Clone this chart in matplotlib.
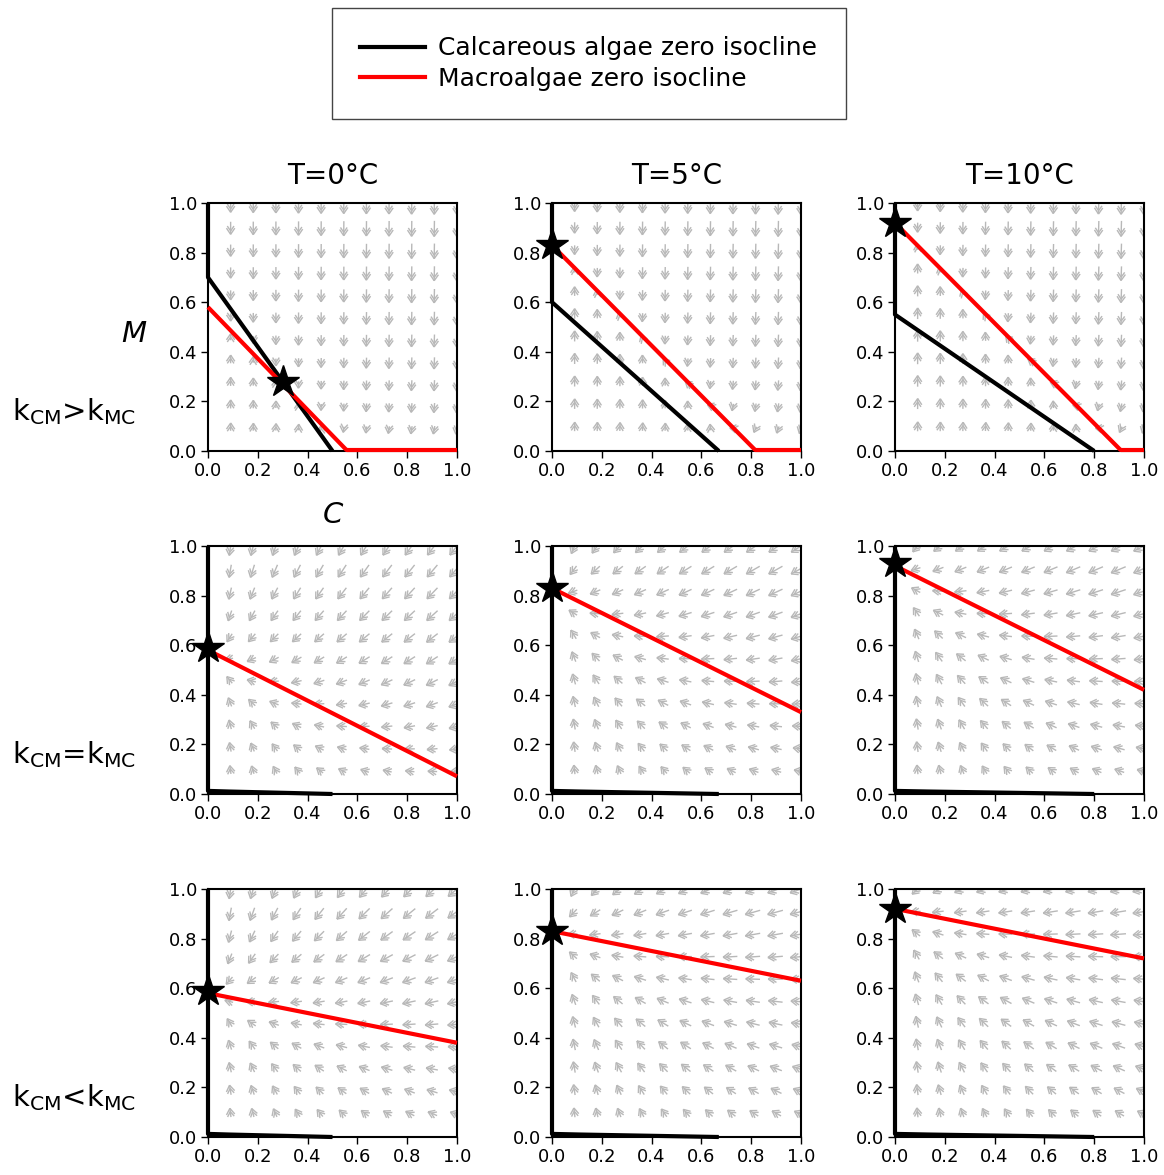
import numpy as np
import matplotlib
matplotlib.use('Agg')
from matplotlib import pyplot as plt
from matplotlib.collections import LineCollection

# column / row labels
temps = ['T=0°C', 'T=5°C', 'T=10°C']
row_labels = [r'k$_{\rm CM}$>k$_{\rm MC}$',
              r'k$_{\rm CM}$=k$_{\rm MC}$',
              r'k$_{\rm CM}$<k$_{\rm MC}$']

# calcareous algae isocline intercepts (on C axis, on M axis)
calc_c_int = [[0.50, 0.67, 0.80], [0.50, 0.67, 0.80], [0.50, 0.67, 0.80]]
calc_m_int = [[0.70, 0.60, 0.55], [0.012, 0.012, 0.012], [0.012, 0.012, 0.012]]
# macroalgae isocline intercepts (on M axis, on C axis)
macro_m_int = [[0.58, 0.83, 0.92], [0.58, 0.83, 0.92], [0.58, 0.83, 0.92]]
macro_c_int = [[0.56, 0.82, 0.91], [1.14, 1.66, 1.84], [2.90, 4.15, 4.60]]

# stable equilibria (stars)
star_c = [[0.30, 0.0, 0.0], [0.0, 0.0, 0.0], [0.0, 0.0, 0.0]]
star_m = [[0.28, 0.83, 0.92], [0.59, 0.83, 0.93], [0.59, 0.83, 0.92]]

r_calc = 0.015   # relative growth rate of calcareous algae
r_macro = 1.0

ARROW = '#b8b8b8'


def flow(ax, cc, cm, mm, mc):
    g = np.arange(1, 12) / 11.0
    C, M = np.meshgrid(g, g)
    dC = r_calc * C * (1 - C / cc - M / cm)
    dM = r_macro * M * (1 - M / mm - C / mc)
    mag = np.hypot(dC, dM)
    L = 0.066 * (mag / mag.max()) ** 0.2
    ux, uy = dC / mag, dM / mag
    segs = []
    hl, ang = 0.03, np.radians(34)
    for x0, y0, l, a, b in zip(C.ravel(), M.ravel(), L.ravel(), ux.ravel(), uy.ravel()):
        x0, y0 = x0 - 0.3 * l * a, y0 - 0.3 * l * b
        x1, y1 = x0 + l * a, y0 + l * b
        segs.append([(x0, y0), (x1, y1)])
        for tip, hh in ((0.0, hl), (0.45 * hl, 0.8 * hl)):
            tx, ty = x1 - tip * a, y1 - tip * b
            for s in (ang, -ang):
                ca, sa = np.cos(s), np.sin(s)
                bx = -(a * ca - b * sa)
                by = -(a * sa + b * ca)
                segs.append([(tx, ty), (tx + hh * bx, ty + hh * by)])
    ax.add_collection(LineCollection(segs, colors=ARROW, linewidths=1.0, zorder=1))


fig = plt.figure(figsize=(11.64, 11.75), dpi=100)

lefts = [208 / 1164, 552 / 1164, 895 / 1164]
bottoms = [1 - 451 / 1175, 1 - 794 / 1175, 1 - 1137 / 1175]
w, h = 249 / 1164, 248 / 1175

for i in range(3):
    for j in range(3):
        ax = fig.add_axes([lefts[j], bottoms[i], w, h])
        flow(ax, calc_c_int[i][j], calc_m_int[i][j], macro_m_int[i][j], macro_c_int[i][j])

        mv = np.linspace(0, 1, 401)
        cv = np.clip(calc_c_int[i][j] * (1 - mv / calc_m_int[i][j]), 0, None)
        ax.plot(cv, mv, color='black', lw=3, zorder=3, clip_on=False, solid_capstyle='butt')
        cr = np.linspace(0, 1, 401)
        mr = np.clip(macro_m_int[i][j] * (1 - cr / macro_c_int[i][j]), 0.004, None)
        ax.plot(cr, mr, color='red', lw=3, zorder=4, clip_on=False, solid_capstyle='butt')

        ax.plot(star_c[i][j], star_m[i][j], marker='*', ms=24, color='black',
                zorder=5, clip_on=False)

        ax.set_xlim(0, 1)
        ax.set_ylim(0, 1)
        ticks = [0, 0.2, 0.4, 0.6, 0.8, 1.0]
        ax.set_xticks(ticks)
        ax.set_yticks(ticks)
        ax.set_xticklabels(['%.1f' % t for t in ticks])
        ax.set_yticklabels(['%.1f' % t for t in ticks])
        ax.tick_params(labelsize=13, length=5, width=1, direction='out', pad=3)
        for sp in ax.spines.values():
            sp.set_linewidth(1.5)
        if i == 0:
            ax.set_title(temps[j], fontsize=20, pad=14)
        if i == 0 and j == 0:
            ax.text(-0.3, 0.47, 'M', fontsize=21, style='italic',
                    transform=ax.transAxes, ha='center', va='center')
            ax.text(0.5, -0.26, 'C', fontsize=21, style='italic',
                    transform=ax.transAxes, ha='center', va='center')
    yc = bottoms[i] + h * 0.16
    fig.text(12 / 1164, yc, row_labels[i], fontsize=21, ha='left', va='center')

handles = [plt.Line2D([], [], color='black', lw=3),
           plt.Line2D([], [], color='red', lw=3)]
fig.legend(handles, ['Calcareous algae zero isocline', 'Macroalgae zero isocline'],
           loc='center', bbox_to_anchor=(0.5056, 0.946), fontsize=18,
           handlelength=2.6, handletextpad=0.5, borderpad=1.15, labelspacing=0.25,
           fancybox=False, edgecolor='#444444', framealpha=1)

fig.savefig('out.png', dpi=100)
